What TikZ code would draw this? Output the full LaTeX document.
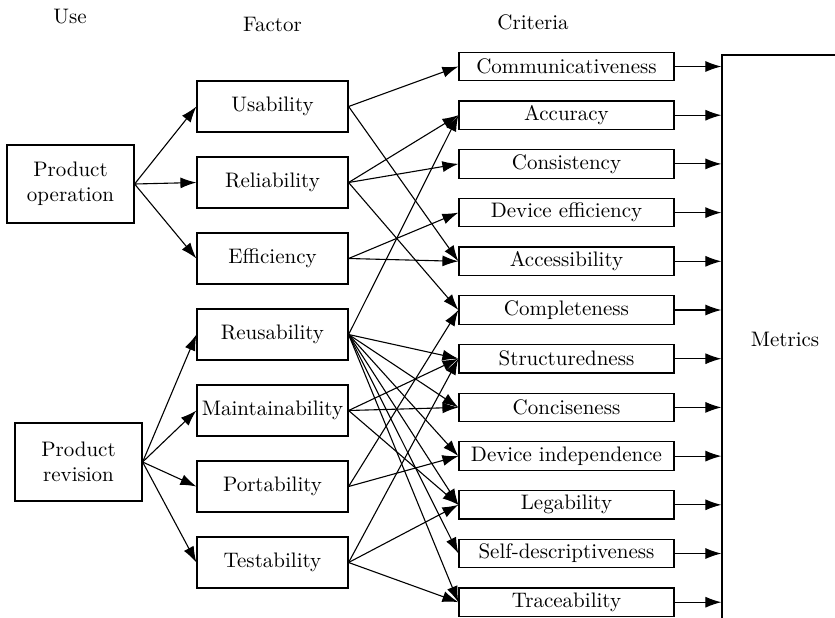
\documentclass[tikz,border=0pt]{standalone}
\usepackage{tikz}
\usetikzlibrary{arrows.meta, positioning}

\begin{document}
\begin{tikzpicture}[x=0.5pt, y=-0.5pt,
    font=\fontsize{10.5}{12.5}\selectfont,
    usebox/.style={draw, line width=0.6pt, minimum width=63.5pt, minimum height=39pt, align=center, inner sep=2pt},
    factorbox/.style={draw, line width=0.6pt, minimum width=75.5pt, minimum height=25.5pt, inner sep=1pt},
    critbox/.style={draw, line width=0.6pt, minimum width=107.5pt, minimum height=14.25pt, inner sep=1pt},
    arr/.style={line width=0.55pt, -{Latex[length=8pt, width=5.5pt]}}]

\useasboundingbox (0,0) rectangle (835,617);

% Headings
\node (use) at (70,17) {Use};
\node (factor) at (272.5,24) {Factor};
\node (criteria) at (533,22) {Criteria};

% Use
\node[usebox] (operation) at (70.5,184) {Product\\operation};
\node[usebox] (revision) at (78.5,462) {Product\\revision};

% Factors
\node[factorbox] (usability) at (272.5,106.5) {Usability};
\node[factorbox, below=11.9pt of usability] (reliability) {Reliability};
\node[factorbox, below=11.9pt of reliability] (efficiency) {Efficiency};
\node[factorbox, below=11.9pt of efficiency] (reusability) {Reusability};
\node[factorbox, below=11.9pt of reusability] (maintainability) {Maintainability};
\node[factorbox, below=11.9pt of maintainability] (portability) {Portability};
\node[factorbox, below=11.9pt of portability] (testability) {Testability};

% Criteria
\node[critbox] (communicativeness) at (566.5,66.5) {Communicativeness};
\node[critbox, below=9.5pt of communicativeness] (accuracy) {Accuracy};
\node[critbox, below=9.5pt of accuracy] (consistency) {Consistency};
\node[critbox, below=9.5pt of consistency] (devefficiency) {Device efficiency};
\node[critbox, below=9.5pt of devefficiency] (accessibility) {Accessibility};
\node[critbox, below=9.5pt of accessibility] (completeness) {Completeness};
\node[critbox, below=9.5pt of completeness] (structuredness) {Structuredness};
\node[critbox, below=9.5pt of structuredness] (conciseness) {Conciseness};
\node[critbox, below=9.5pt of conciseness] (devindependence) {Device independence};
\node[critbox, below=9.5pt of devindependence] (legability) {Legability};
\node[critbox, below=9.5pt of legability] (selfdescr) {Self-descriptiveness};
\node[critbox, below=9.5pt of selfdescr] (traceability) {Traceability};

% Metrics
\node[draw, line width=0.6pt, minimum width=63pt, minimum height=284pt] (metrics) at (785,339) {Metrics};

% Arrows use -> factor
\draw[arr] (operation.east) -- (usability.west);
\draw[arr] (operation.east) -- (reliability.west);
\draw[arr] (operation.east) -- (efficiency.west);
\draw[arr] (revision.east) -- (reusability.west);
\draw[arr] (revision.east) -- (maintainability.west);
\draw[arr] (revision.east) -- (portability.west);
\draw[arr] (revision.east) -- (testability.west);

% Arrows factor -> criteria
\draw[arr] (usability.east) -- (communicativeness.west);
\draw[arr] (usability.east) -- (accessibility.west);
\draw[arr] (reliability.east) -- (accuracy.west);
\draw[arr] (reliability.east) -- (consistency.west);
\draw[arr] (reliability.east) -- (completeness.west);
\draw[arr] (efficiency.east) -- (devefficiency.west);
\draw[arr] (efficiency.east) -- (accessibility.west);
\draw[arr] (reusability.east) -- (accuracy.west);
\draw[arr] (reusability.east) -- (structuredness.west);
\draw[arr] (reusability.east) -- (conciseness.west);
\draw[arr] (reusability.east) -- (devindependence.west);
\draw[arr] (reusability.east) -- (legability.west);
\draw[arr] (reusability.east) -- (selfdescr.west);
\draw[arr] (reusability.east) -- (traceability.west);
\draw[arr] (maintainability.east) -- (structuredness.west);
\draw[arr] (maintainability.east) -- (conciseness.west);
\draw[arr] (maintainability.east) -- (legability.west);
\draw[arr] (portability.east) -- (completeness.west);
\draw[arr] (portability.east) -- (devindependence.west);
\draw[arr] (testability.east) -- (structuredness.west);
\draw[arr] (testability.east) -- (legability.west);
\draw[arr] (testability.east) -- (traceability.west);

% Arrows criteria -> metrics
\draw[arr] (communicativeness.east) -- (communicativeness.east -| metrics.west);
\draw[arr] (accuracy.east) -- (accuracy.east -| metrics.west);
\draw[arr] (consistency.east) -- (consistency.east -| metrics.west);
\draw[arr] (devefficiency.east) -- (devefficiency.east -| metrics.west);
\draw[arr] (accessibility.east) -- (accessibility.east -| metrics.west);
\draw[arr] (completeness.east) -- (completeness.east -| metrics.west);
\draw[arr] (structuredness.east) -- (structuredness.east -| metrics.west);
\draw[arr] (conciseness.east) -- (conciseness.east -| metrics.west);
\draw[arr] (devindependence.east) -- (devindependence.east -| metrics.west);
\draw[arr] (legability.east) -- (legability.east -| metrics.west);
\draw[arr] (selfdescr.east) -- (selfdescr.east -| metrics.west);
\draw[arr] (traceability.east) -- (traceability.east -| metrics.west);
\end{tikzpicture}
\end{document}
